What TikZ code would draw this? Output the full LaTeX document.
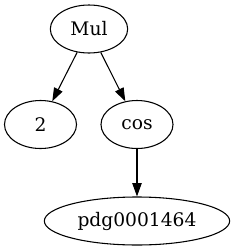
\documentclass[tikz,border=0pt]{standalone}
\usepackage{fontspec}
\setmainfont{DejaVu Serif}
\usetikzlibrary{shapes.geometric,arrows.meta}
\begin{document}
\begin{tikzpicture}[x=0.75pt,y=-0.75pt,
  gnode/.style={draw,ellipse,line width=0.8pt,inner sep=0pt,font=\fontsize{14}{16}\selectfont,minimum height=36pt},
  gedge/.style={draw,line width=0.8pt,-{Triangle[length=10pt,width=7pt]}}]
\useasboundingbox (0,0) rectangle (235,251);
\node[gnode,minimum width=58pt] (mul) at (89,29) {Mul};
\node[gnode,minimum width=54pt] (two) at (40.5,124.5) {2};
\node[gnode,minimum width=54pt] (cos) at (137,124.5) {cos};
\node[gnode,minimum width=139pt] (pdg) at (137,221) {pdg0001464};
\draw[gedge] (mul) -- (two);
\draw[gedge] (mul) -- (cos);
\draw[gedge] (cos) -- (pdg);
\end{tikzpicture}
\end{document}
